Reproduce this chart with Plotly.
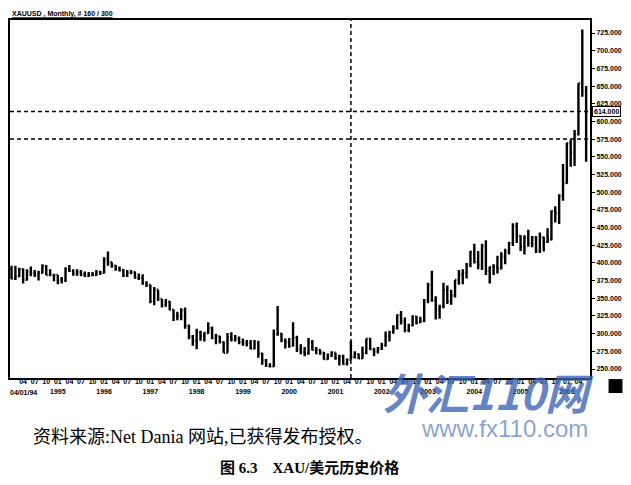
import plotly.graph_objects as go

# ---- data: monthly XAU/USD, Jan 1994 .. Jun 2006 ----
opens = [
    391, 378, 381, 391, 376, 387, 386, 384, 386, 395, 383, 383,
    383, 376, 376, 391, 389, 385, 387, 384, 382, 383, 383, 387,
    386, 405, 401, 396, 392, 390, 382, 386, 387, 379, 379, 371,
    369, 346, 362, 349, 340, 345, 334, 326, 325, 333, 311, 296,
    290, 302, 297, 301, 308, 294, 296, 288, 273, 295, 292, 293,
    288, 286, 287, 279, 286, 272, 262, 255, 254, 299, 300, 291,
    288, 283, 294, 278, 274, 272, 288, 277, 277, 273, 264, 269,
    273, 265, 267, 257, 263, 267, 271, 265, 273, 293, 278, 275,
    279, 283, 296, 302, 308, 326, 318, 305, 312, 324, 316, 318,
    347, 368, 347, 334, 338, 362, 346, 354, 376, 384, 386, 398,
    416, 401, 397, 424, 389, 394, 395, 392, 409, 416, 428, 452,
    438, 423, 435, 428, 436, 417, 436, 430, 433, 473, 470, 495,
    513, 569, 556, 582, 654, 643,
]
highs = [
    396, 396, 393, 392, 391, 395, 390, 389, 398, 397, 391, 384,
    383, 380, 394, 397, 391, 391, 390, 388, 387, 387, 390, 389,
    408, 416, 401, 397, 395, 391, 390, 390, 388, 385, 384, 374,
    369, 366, 362, 349, 349, 346, 334, 331, 336, 337, 313, 298,
    307, 304, 302, 316, 310, 300, 297, 289, 301, 302, 298, 296,
    293, 291, 291, 291, 290, 273, 264, 258, 306, 339, 301, 293,
    294, 316, 297, 285, 281, 294, 291, 281, 278, 274, 272, 275,
    273, 270, 270, 265, 290, 275, 272, 282, 293, 294, 280, 281,
    287, 303, 304, 312, 327, 332, 323, 314, 326, 325, 324, 349,
    372, 389, 353, 341, 372, 368, 362, 376, 390, 391, 400, 417,
    427, 417, 427, 432, 395, 398, 410, 415, 420, 430, 456, 457,
    439, 439, 447, 438, 438, 443, 437, 449, 474, 480, 497, 540,
    570, 574, 588, 654, 730, 650,
]
lows = [
    377, 376, 380, 371, 375, 381, 380, 375, 385, 383, 381, 374,
    370, 371, 373, 387, 382, 382, 381, 380, 380, 381, 382, 383,
    385, 396, 393, 389, 388, 380, 380, 384, 378, 376, 369, 366,
    343, 340, 346, 337, 338, 333, 318, 319, 319, 307, 292, 283,
    278, 290, 289, 300, 292, 285, 286, 273, 273, 289, 289, 285,
    283, 282, 278, 278, 266, 256, 253, 252, 253, 297, 288, 279,
    280, 282, 274, 271, 268, 270, 276, 271, 270, 263, 263, 267,
    263, 255, 256, 255, 263, 265, 264, 264, 271, 277, 268, 272,
    277, 282, 289, 300, 306, 313, 302, 302, 310, 313, 315, 316,
    343, 345, 320, 321, 336, 342, 341, 351, 369, 370, 378, 394,
    399, 391, 390, 383, 371, 383, 385, 391, 398, 412, 424, 428,
    417, 412, 423, 422, 414, 414, 416, 428, 432, 457, 455, 488,
    512, 536, 537, 580, 635, 543,
]
closes = [
    378, 381, 391, 376, 387, 386, 384, 386, 395, 383, 383, 383,
    376, 376, 391, 389, 385, 387, 384, 382, 383, 383, 387, 386,
    405, 401, 396, 392, 390, 382, 386, 387, 379, 379, 371, 369,
    346, 362, 349, 340, 345, 334, 326, 325, 333, 311, 296, 290,
    302, 297, 301, 308, 294, 296, 288, 273, 295, 292, 293, 288,
    286, 287, 279, 286, 272, 262, 255, 254, 299, 300, 291, 288,
    283, 294, 278, 274, 272, 288, 277, 277, 273, 264, 269, 273,
    265, 267, 257, 263, 267, 271, 265, 273, 293, 278, 275, 279,
    283, 296, 302, 308, 326, 318, 305, 312, 324, 316, 318, 347,
    368, 347, 334, 338, 362, 346, 354, 376, 384, 386, 398, 416,
    401, 397, 424, 389, 394, 395, 392, 409, 416, 428, 452, 438,
    423, 435, 428, 436, 417, 436, 430, 433, 473, 470, 495, 513,
    569, 556, 582, 654, 643, 614,
]
months = list(range(len(closes)))          # 0 = Jan 1994

quarter_labels = ["01", "04", "07", "10"]
years = ["1995", "1996", "1997", "1998", "1999", "2000",
         "2001", "2002", "2003", "2004", "2005", "2006"]
start_label = "04/01/94"
y_ticks = [250, 275, 300, 325, 350, 375, 400, 425, 450, 475, 500,
           525, 550, 575, 600, 625, 650, 675, 700, 725]
cursor_month = 88
cursor_levels = [614, 575]
last_price = 614

# ---- tick labels ----
tickvals, ticktext = [], []
for m in range(3, len(closes), 3):
    lab = quarter_labels[(m % 12) // 3]
    if m % 12 == 0:
        lab = lab + "<br>" + years[m // 12 - 1]
    tickvals.append(m)
    ticktext.append(lab)

fig = go.Figure()
fig.add_trace(go.Ohlc(
    x=months, open=opens, high=highs, low=lows, close=closes,
    increasing=dict(line=dict(color="black", width=2.4)),
    decreasing=dict(line=dict(color="black", width=2.4)),
    tickwidth=0.35, showlegend=False, hoverinfo="skip",
))

tick_font = dict(family="Liberation Sans, Arial", size=7, color="black", weight="bold")

# page body adds an 8px offset; the figure fills the rest of the 631x485 window
fig.update_layout(
    width=623, height=477,
    margin=dict(l=2, r=41, t=12, b=107),
    paper_bgcolor="white", plot_bgcolor="white",
    showlegend=False,
    xaxis=dict(
        range=[-0.4, 150.0], tickmode="array", tickvals=tickvals, ticktext=ticktext,
        tickfont=tick_font, tickangle=0, automargin=False, ticklabelstandoff=-4,
        showgrid=False, zeroline=False,
        showline=True, linecolor="black", linewidth=2, mirror=True,
        ticks="", rangeslider=dict(visible=False), fixedrange=True,
    ),
    yaxis=dict(
        range=[237.3, 743.4], side="right", tickmode="array", tickvals=y_ticks,
        tickformat=".3f", tickfont=tick_font, automargin=False,
        showgrid=False, zeroline=False,
        showline=True, linecolor="black", linewidth=2, mirror=True,
        ticks="outside", ticklen=3, tickcolor="black",
    ),
)

# crosshair
for lvl in cursor_levels:
    fig.add_shape(type="line", xref="paper", x0=0, x1=1, yref="y", y0=lvl, y1=lvl,
                  line=dict(color="black", width=1.5, dash="4px,3px"))
fig.add_shape(type="line", xref="x", x0=cursor_month, x1=cursor_month,
              yref="paper", y0=0, y1=1,
              line=dict(color="black", width=1.5, dash="4px,3px"))

# last price box
fig.add_annotation(xref="paper", x=1, xanchor="left", xshift=2, yref="y", y=last_price,
                   text=f"{last_price:.3f}", showarrow=False, font=tick_font,
                   bgcolor="white", bordercolor="black", borderwidth=1, borderpad=1)

# black corner block
fig.add_shape(type="rect", xref="paper", yref="paper", x0=1.032, x1=1.056,
              y0=-0.042, y1=-0.003, fillcolor="black", line=dict(width=0))

# chart title
fig.add_annotation(xref="paper", x=0, xanchor="left", yref="paper", y=1, yanchor="bottom",
                   text="<u>XAUUSD , Monthly, # 160 / 300</u>", showarrow=False,
                   font=dict(family="Liberation Sans, Arial", size=7, color="black", weight="bold"))

# start date label
fig.add_annotation(xref="paper", x=-0.004, xanchor="left", yref="paper", y=-0.026,
                   yanchor="top", text=start_label, showarrow=False, font=tick_font)

# watermark
fig.add_annotation(xref="paper", x=0.640, xanchor="left", yref="paper", y=-0.036,
                   yanchor="middle", text="<i><b>外汇110网</b></i>", showarrow=False,
                   font=dict(family="Noto Sans CJK SC", size=43, color="rgba(60,100,180,0.8)"))
fig.add_annotation(xref="paper", x=0.705, xanchor="left", yref="paper", y=-0.098,
                   yanchor="top", text="www.fx110.com", showarrow=False,
                   font=dict(family="Liberation Sans, Arial", size=24, color="rgba(120,145,195,0.85)"))

# captions
fig.add_annotation(xref="paper", x=0.036, xanchor="left", yref="paper", y=-0.165,
                   yanchor="middle", text="资料来源:Net Dania 网站,已获得发布授权。", showarrow=False,
                   font=dict(family="Liberation Serif, Noto Sans CJK SC", size=18, color="black"))
fig.add_annotation(xref="paper", x=0.517, xanchor="center", yref="paper", y=-0.25,
                   yanchor="middle", text="<b>图 6.3    XAU/美元历史价格</b>", showarrow=False,
                   font=dict(family="Liberation Serif, Noto Sans CJK SC", size=15, color="black"))

fig.write_html("out.html")
